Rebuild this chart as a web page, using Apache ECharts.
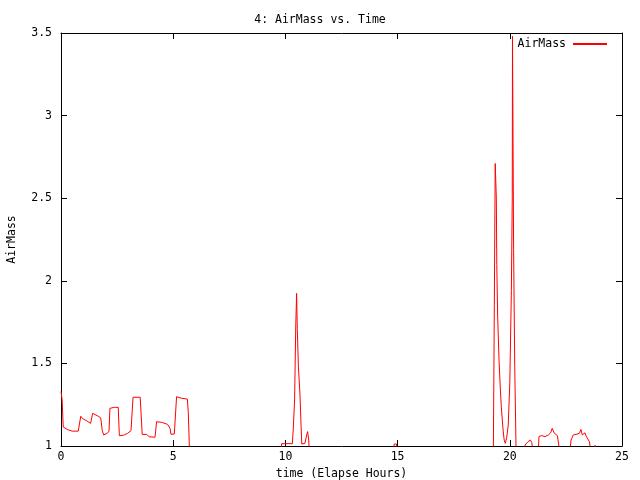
<!DOCTYPE html>
<html>
<head>
<meta charset="utf-8">
<script src="https://cdn.jsdelivr.net/npm/echarts@6/dist/echarts.min.js"></script>
<style>html,body{margin:0;padding:0;background:#fff}#c{width:640px;height:480px}</style>
</head>
<body>
<div id="c"></div>
<script>
// Elapsed time in hours
const timeHours = [
  0, 0.05, 0.1, 0.28, 0.5, 0.77, 0.88, 0.97, 1.14, 1.32, 1.41, 1.52, 1.66, 1.77, 1.84, 1.9, 2.06, 2.14, 2.18, 2.38, 2.55,
  2.6, 2.78, 2.97, 3.12, 3.21, 3.53, 3.62, 3.82, 3.93, 4.19, 4.26, 4.49, 4.75, 4.86, 4.9, 5.05, 5.15, 5.38, 5.63, 5.67, 5.77,
  9.75, 9.83, 10.31, 10.35, 10.41, 10.46, 10.5, 10.53, 10.58, 10.65, 10.7, 10.73, 10.87, 10.95, 10.99, 11.04, 11.1,
  14.78, 14.85, 14.95, 15.02,
  19.25, 19.31, 19.35, 19.4, 19.42, 19.46, 19.52, 19.58, 19.62, 19.7, 19.75, 19.8, 19.86, 19.93, 20.0, 20.07, 20.11, 20.12,
  20.17, 20.22, 20.3,
  20.6, 20.68, 20.81, 20.92, 20.98, 21.05,
  21.25, 21.3, 21.42, 21.57, 21.72, 21.82, 21.89, 21.97, 22.05, 22.12, 22.22,
  22.66, 22.73, 22.83, 22.95, 23.0, 23.1, 23.17, 23.23, 23.35, 23.4, 23.47, 23.55, 23.62,
  23.75, 23.8, 23.85
];
// AirMass values (values below 1 fall outside the plotted range)
const airMass = [
  1.33, 1.28, 1.115, 1.10, 1.09, 1.09, 1.18, 1.165, 1.153, 1.137, 1.198, 1.19, 1.18, 1.17, 1.093, 1.067, 1.077, 1.09, 1.228, 1.234, 1.234,
  1.062, 1.065, 1.077, 1.093, 1.295, 1.295, 1.07, 1.07, 1.056, 1.053, 1.147, 1.143, 1.131, 1.107, 1.071, 1.073, 1.298, 1.289, 1.284, 1.208, 0.79,
  0.5, 1.014, 1.014, 1.103, 1.278, 1.72, 1.924, 1.71, 1.48, 1.31, 1.117, 1.012, 1.016, 1.067, 1.087, 1.036, 0.85,
  0.9, 1.012, 1.012, 0.9,
  0.6, 1.85, 2.71, 2.5, 2.1, 1.78, 1.52, 1.34, 1.24, 1.097, 1.036, 1.016, 1.05, 1.127, 1.38, 1.94, 2.51, 3.48,
  2.19, 1.48, 0.8,
  0.9, 1.006, 1.026, 1.036, 1.02, 0.95,
  0.9, 1.057, 1.063, 1.057, 1.067, 1.08, 1.107, 1.08, 1.077, 1.063, 0.97,
  0.95, 1.036, 1.067, 1.07, 1.063, 1.077, 1.1, 1.067, 1.08, 1.06, 1.067, 1.026, 0.95,
  0.99, 1.004, 0.99
];
const xTicks = [0, 5, 10, 15, 20, 25];
const yTicks = [1, 1.5, 2, 2.5, 3, 3.5];
const titleText = '4: AirMass vs. Time';
const seriesName = 'AirMass';
const xName = 'time (Elapse Hours)';
const yName = 'AirMass';

const FONT = 'DejaVu Sans Mono';
const chart = echarts.init(document.getElementById('c'), null, {renderer: 'canvas'});
const pts = timeHours.map((t, i) => [t, airMass[i]]);
const axisCommon = {
  axisLine: {show: true, onZero: false, lineStyle: {color: '#000', width: 1}},
  axisTick: {show: true, inside: true, length: 6, lineStyle: {color: '#000'}},
  splitLine: {show: false}
};
chart.setOption({
  animation: false,
  backgroundColor: '#fff',
  title: {text: titleText, left: 'center', top: 9,
    textStyle: {fontFamily: FONT, fontSize: 11.5, fontWeight: 'normal', color: '#000'}},
  legend: {show: true, right: 28, top: 33, align: 'right', itemWidth: 34, itemHeight: 2, icon: 'rect', itemGap: 0,
    data: [seriesName],
    textStyle: {fontFamily: FONT, fontSize: 11.5, color: '#000', padding: [0, 2, 0, 0]}},
  grid: {left: 61, right: 18, top: 33, bottom: 34, containLabel: false, outerBoundsMode: 'none'},
  xAxis: [
    Object.assign({type: 'value', min: xTicks[0], max: xTicks[xTicks.length - 1], interval: 5, position: 'bottom',
      name: xName, nameLocation: 'middle', nameGap: 21,
      nameTextStyle: {fontFamily: FONT, fontSize: 11.5, color: '#000'},
      axisLabel: {fontFamily: FONT, fontSize: 11.5, color: '#000', margin: 5}}, axisCommon),
    Object.assign({type: 'value', min: xTicks[0], max: xTicks[xTicks.length - 1], interval: 5, position: 'top',
      axisLabel: {show: false}}, axisCommon)
  ],
  yAxis: [
    Object.assign({type: 'value', min: yTicks[0], max: yTicks[yTicks.length - 1], interval: 0.5, position: 'left',
      name: yName, nameLocation: 'middle', nameGap: 43, nameRotate: 90,
      nameTextStyle: {fontFamily: FONT, fontSize: 11.5, color: '#000'},
      axisLabel: {fontFamily: FONT, fontSize: 11.5, color: '#000', margin: 9}}, axisCommon),
    Object.assign({type: 'value', min: yTicks[0], max: yTicks[yTicks.length - 1], interval: 0.5, position: 'right',
      axisLabel: {show: false}}, axisCommon)
  ],
  series: [{
    name: seriesName, type: 'line', data: pts, xAxisIndex: 0, yAxisIndex: 0,
    showSymbol: false, symbol: 'none', clip: true,
    lineStyle: {color: '#ff0000', width: 1}, itemStyle: {color: '#ff0000'}
  }]
});
</script>
</body>
</html>
